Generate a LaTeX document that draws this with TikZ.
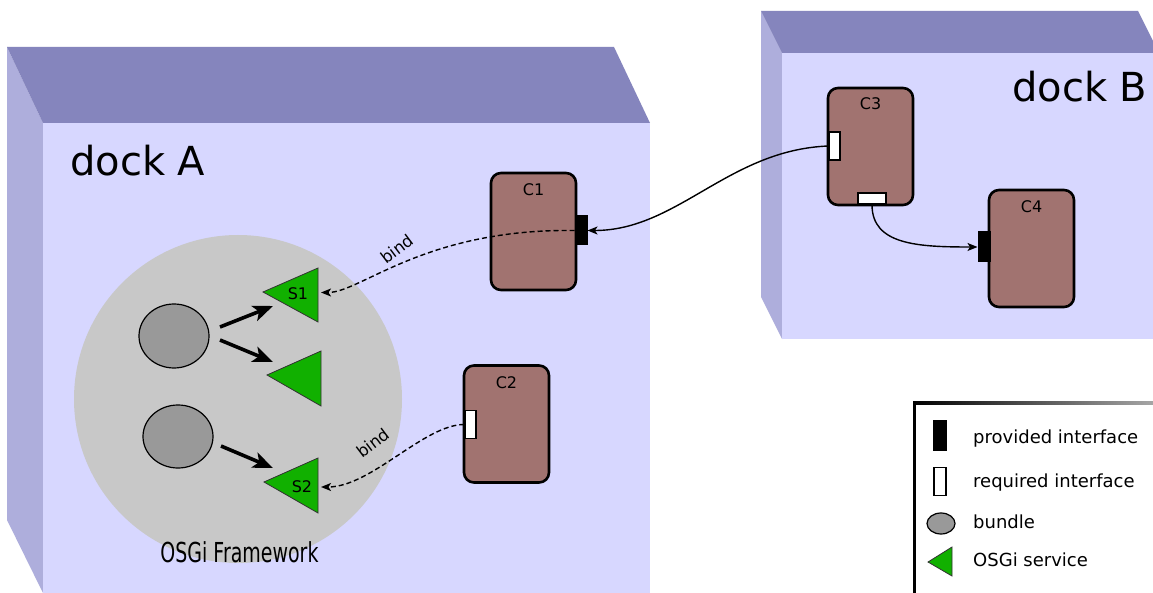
\documentclass[tikz,border=0pt]{standalone}
\usepackage{fontspec}
\usepackage{graphicx}
\setmainfont{DejaVu Sans}
\usetikzlibrary{arrows.meta,shapes.geometric}

\definecolor{dockfront}{RGB}{215,215,255}
\definecolor{docktop}{RGB}{133,133,189}
\definecolor{dockside}{RGB}{174,174,220}
\definecolor{fwgray}{RGB}{200,200,200}
\definecolor{bundlegray}{RGB}{153,153,153}
\definecolor{compbrown}{RGB}{161,115,112}
\definecolor{svcgreen}{RGB}{17,176,0}

\newcommand{\fsz}[1]{\fontsize{#1}{#1}\selectfont}

\begin{document}
\begin{tikzpicture}[x=1pt,y=-1pt,
  comp/.style={draw=black, line width=2.6pt, fill=compbrown, rounded corners=10pt,
    minimum width=85pt, minimum height=117pt, inner sep=0pt},
  complabel/.style={font=\fsz{16}, anchor=base, inner sep=0pt},
  prov/.style={draw=black, fill=black, line width=1pt, inner sep=0pt,
    minimum width=12pt, minimum height=29pt},
  req/.style={draw=black, fill=white, line width=1.5pt, inner sep=0pt,
    minimum width=11pt, minimum height=28pt},
  bundle/.style={ellipse, draw=black, line width=1.2pt, fill=bundlegray, inner sep=0pt},
  svc/.style={draw=black!80, line width=0.8pt, fill=svcgreen, line join=miter},
  bigarrow/.style={line width=3.6pt, -{Stealth[length=20pt,width=16pt,inset=5pt]}},
  wire/.style={line width=1.4pt, -{Stealth[length=10pt,width=8pt,inset=2.5pt]}},
  bindwire/.style={line width=1.4pt, dash pattern=on 5pt off 3pt,
    -{Stealth[length=10pt,width=8pt,inset=2.5pt]}},
  docklabel/.style={font=\fsz{40}, anchor=base west, inner sep=0pt},
  bindlabel/.style={font=\fsz{16.5}, rotate=37, inner sep=0pt},
  legtext/.style={font=\fsz{18}, anchor=base west, inner sep=0pt}]

\useasboundingbox (0,0) rectangle (1153,593);
\fill[white] (0,0) rectangle (1153,593);

% dock A box
\fill[dockside] (7,47) -- (43,123) -- (43,593) -- (7,520) -- cycle;
\fill[docktop] (7,47) -- (614,47) -- (650,123) -- (43,123) -- cycle;
\fill[dockfront] (43,123) rectangle (650,593);
\node[docklabel] (dockA) at (70,176) {dock A};

% dock B box
\fill[dockside] (761,11) -- (782,53) -- (782,339) -- (761,297) -- cycle;
\fill[docktop] (761,11) -- (1138,11) -- (1159,53) -- (782,53) -- cycle;
\fill[dockfront] (782,53) rectangle (1153,339);
\node[docklabel] (dockB) at (1012,102) {dock B};

% OSGi framework
\fill[fwgray] (238,399) circle [radius=164pt];
\node[inner sep=0pt, anchor=base] (fw) at (239.5,562)
  {\scalebox{0.69}[1]{\fsz{27.5}OSGi Framework}};

% bundles
\node[bundle, minimum width=70pt, minimum height=64pt] (b1) at (174,336) {};
\node[bundle, minimum width=70pt, minimum height=63pt] (b2) at (178,436.5) {};

% services
\draw[svc] (263,292) -- (318,268) -- (318,322) -- cycle;
\draw[svc] (267,375) -- (321,351) -- (321,406) -- cycle;
\draw[svc] (264,482) -- (318,458) -- (318,513) -- cycle;
\node[complabel] (s1) at (298,300) {S1};
\node[complabel] (s2) at (302,492) {S2};

\coordinate (s1in) at (321,292.5);
\coordinate (s2in) at (321,487);
\coordinate (t1) at (273,306);
\coordinate (t2) at (273,362);
\coordinate (t3) at (273,468);
\coordinate (o1) at (220,327);
\coordinate (o2) at (220,340);
\coordinate (o3) at (221,446);

\draw[bigarrow] (o1) -- (t1);
\draw[bigarrow] (o2) -- (t2);
\draw[bigarrow] (o3) -- (t3);

% components
\node[comp] (c1) at (533.5,231.5) {};
\node[complabel] (c1l) at ([yshift=-24pt]c1.north) {C1};
\node[comp] (c2) at (506.5,424) {};
\node[complabel] (c2l) at ([yshift=-24pt]c2.north) {C2};
\node[comp] (c3) at (870.5,146.5) {};
\node[complabel] (c3l) at ([yshift=-23pt]c3.north) {C3};
\node[comp] (c4) at (1031.5,248.5) {};
\node[complabel] (c4l) at ([yshift=-24pt]c4.north) {C4};

% interfaces
\node[prov] (c1p) at (581,230.5) {};
\node[req] (c2r) at (470.5,424.5) {};
\node[req] (c3r) at (834.5,146) {};
\node[req, minimum width=28pt, minimum height=11pt] (c3b) at (872,198.5) {};
\node[prov, minimum height=30pt] (c4p) at (984,247) {};

% connections
\draw[wire] (c3r.west) .. controls +(-100,4) and +(90,0) .. (c1p.east);
\draw[wire] (c3b.south) .. controls +(0,40) and +(-60,0) .. (c4p.west);
\draw[bindwire] (c1p.west) .. controls +(-150,-2) and +(40,0) .. (s1in);
\draw[bindwire] (c2r.west) .. controls +(-40,0) and +(50,0) .. (s2in);
\node[bindlabel] (bind1) at (397,249) {bind};
\node[bindlabel] (bind2) at (373,443) {bind};

% legend
\shade[left color=black, right color=black!35] (913,401) rectangle (1153,404);
\fill[black] (913,401) rectangle (916,593);
\node[prov, minimum width=13pt, minimum height=30pt] (lp) at (940,435.5) {};
\node[req, minimum width=12pt, minimum height=28pt] (lr) at (940,481.5) {};
\node[bundle, minimum width=28pt, minimum height=21pt] (lb) at (941,523.5) {};
\draw[svc] (928,562) -- (952,547) -- (952,576) -- cycle;
\node[legtext] (lpt) at (973,443) {provided interface};
\node[legtext] (lrt) at (973,487) {required interface};
\node[legtext] (lbt) at (973,528) {bundle};
\node[legtext] (lst) at (973,566) {OSGi service};
\end{tikzpicture}
\end{document}
